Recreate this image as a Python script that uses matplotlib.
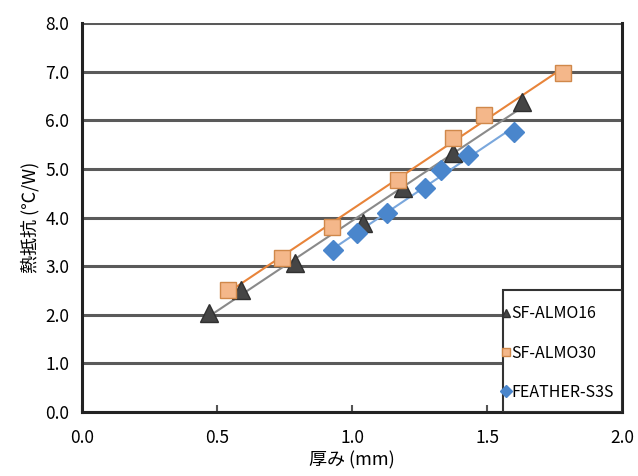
import numpy as np
import matplotlib
matplotlib.use("Agg")
import matplotlib.pyplot as plt
from matplotlib.patches import Rectangle

plt.rcParams['font.family'] = ['Noto Sans CJK JP', 'DejaVu Sans']

x_almo16 = [0.47, 0.59, 0.79, 1.04, 1.19, 1.375, 1.63]
y_almo16 = [2.04, 2.51, 3.07, 3.89, 4.61, 5.33, 6.38]
x_almo30 = [0.54, 0.74, 0.925, 1.17, 1.375, 1.49, 1.78]
y_almo30 = [2.50, 3.17, 3.81, 4.77, 5.64, 6.11, 6.97]
x_s3s = [0.93, 1.02, 1.13, 1.27, 1.33, 1.43, 1.60]
y_s3s = [3.33, 3.68, 4.09, 4.61, 4.98, 5.29, 5.76]

labels = ['SF-ALMO16', 'SF-ALMO30', 'FEATHER-S3S']
xticks = [0.0, 0.5, 1.0, 1.5, 2.0]
yticks = [0.0, 1.0, 2.0, 3.0, 4.0, 5.0, 6.0, 7.0, 8.0]

fig = plt.figure(figsize=(6.38, 4.76), dpi=100)
ax = fig.add_axes([0.1285, 0.1345, 0.8465, 0.817])

series = [
    (x_almo16, y_almo16, '#8a8a8a', dict(marker='^', color='#454545', mec='#303030', ms=13)),
    (x_almo30, y_almo30, '#e8843a', dict(marker='s', color='#f4b78a', mec='#d0884a', ms=11)),
    (x_s3s, y_s3s, '#7aa7dc', dict(marker='D', color='#4a86cc', mec='#4a86cc', ms=10)),
]

handles = []
for (xs, ys, lc, mk), lab in zip(series, labels):
    xs = np.array(xs); ys = np.array(ys)
    p = np.polyfit(xs, ys, 1)
    xl = np.array([xs.min(), xs.max()])
    ax.plot(xl, np.polyval(p, xl), color=lc, lw=1.5, zorder=2)
    ax.plot(xs, ys, ls='none', marker=mk['marker'], mfc=mk['color'], mec=mk['mec'],
            ms=mk['ms'], mew=1.0, zorder=3)
    h, = ax.plot([], [], ls='none', marker=mk['marker'], mfc=mk['color'], mec=mk['mec'],
                 ms=6, label=lab)
    handles.append(h)

ax.set_xlim(0, 2.0)
ax.set_ylim(0, 8.0)
ax.set_xticks(xticks)
ax.set_xticklabels([f'{v:.1f}' for v in xticks])
ax.set_yticks(yticks)
ax.set_yticklabels([f'{v:.1f}' for v in yticks])
ax.yaxis.grid(True, color='#5a5a5a', lw=2.2)
ax.set_axisbelow(True)
ax.tick_params(axis='x', direction='in', length=5, width=1.5, color='#555555', labelsize=12.5, pad=12)
ax.tick_params(axis='y', length=0, labelsize=12.5, pad=9)
for s in ['left', 'bottom', 'right']:
    ax.spines[s].set_linewidth(2.2)
    ax.spines[s].set_color('#222222')
ax.spines['top'].set_visible(False)

ax.set_ylabel('熱抵抗 (℃/W)', fontsize=13, labelpad=4)
ax.set_xlabel('厚み (mm)', fontsize=13, labelpad=3)

# legend box
bx0 = (503 - 82) / 540
by1 = (412 - 290) / 389
ax.add_patch(Rectangle((bx0, 0), 1 - bx0, by1, transform=ax.transAxes,
                       facecolor='white', edgecolor='#333333', lw=1.5, zorder=4))
leg = ax.legend(handles=handles, loc='upper left',
                bbox_to_anchor=((500 - 82) / 540, (412 - 302) / 389),
                fontsize=11.5, frameon=False, handlelength=0.4, handletextpad=0.1,
                labelspacing=1.4, borderpad=0.2, borderaxespad=0.0)
leg.set_zorder(5)

fig.savefig('out.png', dpi=100)
